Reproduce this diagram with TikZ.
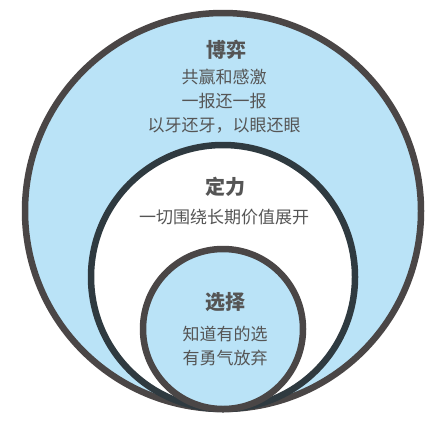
\documentclass[tikz,border=0pt]{standalone}
\usepackage{fontspec}
\newfontfamily\cjk{Noto Sans CJK SC}
\usetikzlibrary{positioning}
\definecolor{ringgray}{HTML}{4A4646}
\definecolor{ringdark}{HTML}{2F3A40}
\definecolor{skyfill}{HTML}{BAE3F7}
\definecolor{textgray}{HTML}{555555}
\tikzset{
  ring/.style={circle, line width=6.5pt, inner sep=0pt, minimum size=#1},
  title/.style={text=textgray, font=\cjk\bfseries\fontsize{20}{24}\selectfont},
  body/.style={text=textgray, align=center, font=\cjk\fontsize{17}{24}\selectfont},
}

\begin{document}
\begin{tikzpicture}[x=1pt, y=-1pt]
    \fill[white] (0,0) rectangle (446,426);
    \useasboundingbox (0,0) rectangle (446,426);
    % the three rings, all touching at the bottom
    \node[ring=396pt, draw=ringgray, fill=skyfill] (game) at (223,211) {};
    \node[ring=264pt, draw=ringdark, fill=white] (focus) at (223,277) {};
    \node[ring=160pt, draw=ringgray, fill=skyfill] (choice) at (223,329) {};
    % texts
    \node[title] (gametitle) at (226,50) {博弈};
    \node[body] (gametext) at (224,101) {共赢和感激\\一报还一报\\以牙还牙，以眼还眼};
    \node[title] (focustitle) at (225,187) {定力};
    \node[body] (focustext) at (224,217) {一切围绕长期价值展开};
    \node[title] (choicetitle) at (225,302) {选择};
    \node[body] (choicetext) at (225,346) {知道有的选\\有勇气放弃};
\end{tikzpicture}
\end{document}
